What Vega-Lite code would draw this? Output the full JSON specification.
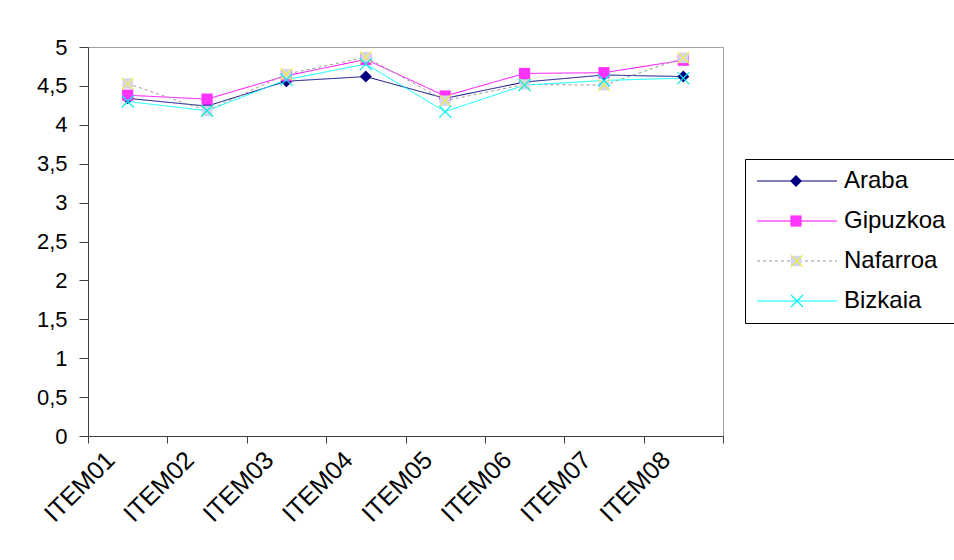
{
  "$schema": "https://vega.github.io/schema/vega-lite/v6.json",
  "autosize": "none",
  "width": 635,
  "height": 389,
  "padding": {"left": 88, "top": 47, "right": 231, "bottom": 124},
  "background": "white",
  "config": {
    "view": {"stroke": "#a0a0a0", "strokeWidth": 1},
    "font": "Liberation Sans",
    "axis": {"labelFont": "Liberation Sans", "labelFontSize": 22, "labelColor": "black", "domainColor": "#404040", "tickColor": "#404040", "grid": false, "title": null},
    "legend": {"labelFont": "Liberation Sans", "labelFontSize": 24, "labelColor": "black"}
  },
  "data": {"values": [
    {"item": "ITEM01", "series": "Araba", "value": 4.34},
    {"item": "ITEM02", "series": "Araba", "value": 4.24},
    {"item": "ITEM03", "series": "Araba", "value": 4.56},
    {"item": "ITEM04", "series": "Araba", "value": 4.62},
    {"item": "ITEM05", "series": "Araba", "value": 4.34},
    {"item": "ITEM06", "series": "Araba", "value": 4.55},
    {"item": "ITEM07", "series": "Araba", "value": 4.64},
    {"item": "ITEM08", "series": "Araba", "value": 4.62},
    {"item": "ITEM01", "series": "Gipuzkoa", "value": 4.38},
    {"item": "ITEM02", "series": "Gipuzkoa", "value": 4.33},
    {"item": "ITEM03", "series": "Gipuzkoa", "value": 4.63},
    {"item": "ITEM04", "series": "Gipuzkoa", "value": 4.84},
    {"item": "ITEM05", "series": "Gipuzkoa", "value": 4.37},
    {"item": "ITEM06", "series": "Gipuzkoa", "value": 4.66},
    {"item": "ITEM07", "series": "Gipuzkoa", "value": 4.67},
    {"item": "ITEM08", "series": "Gipuzkoa", "value": 4.83},
    {"item": "ITEM01", "series": "Nafarroa", "value": 4.53},
    {"item": "ITEM02", "series": "Nafarroa", "value": 4.18},
    {"item": "ITEM03", "series": "Nafarroa", "value": 4.65},
    {"item": "ITEM04", "series": "Nafarroa", "value": 4.87},
    {"item": "ITEM05", "series": "Nafarroa", "value": 4.31},
    {"item": "ITEM06", "series": "Nafarroa", "value": 4.52},
    {"item": "ITEM07", "series": "Nafarroa", "value": 4.51},
    {"item": "ITEM08", "series": "Nafarroa", "value": 4.86},
    {"item": "ITEM01", "series": "Bizkaia", "value": 4.3},
    {"item": "ITEM02", "series": "Bizkaia", "value": 4.18},
    {"item": "ITEM03", "series": "Bizkaia", "value": 4.58},
    {"item": "ITEM04", "series": "Bizkaia", "value": 4.78},
    {"item": "ITEM05", "series": "Bizkaia", "value": 4.17},
    {"item": "ITEM06", "series": "Bizkaia", "value": 4.51},
    {"item": "ITEM07", "series": "Bizkaia", "value": 4.57},
    {"item": "ITEM08", "series": "Bizkaia", "value": 4.6}
  ]},
  "encoding": {
    "x": {"field": "item", "type": "nominal", "bandPosition": 0.5,
      "scale": {"type": "band", "paddingInner": 0, "paddingOuter": 0},
      "axis": {"tickBand": "extent", "labelAngle": -45, "labelAlign": "right", "labelBaseline": "top", "labelFontSize": 25, "labelOffset": -26, "tickSize": 7, "labelPadding": 4}},
    "y": {"field": "value", "type": "quantitative",
      "scale": {"domain": [0, 5]},
      "axis": {"values": [0, 0.5, 1, 1.5, 2, 2.5, 3, 3.5, 4, 4.5, 5], "labelExpr": "replace(toString(datum.value), '.', ',')", "tickSize": 9, "labelPadding": 12}}
  },
  "layer": [
    {
      "mark": {"type": "line", "strokeWidth": 1},
      "encoding": {
        "color": {"field": "series", "type": "nominal",
          "scale": {"domain": ["Araba", "Gipuzkoa", "Nafarroa", "Bizkaia"], "range": ["#000080", "#FF00FF", "#999999", "#00FFFF"]},
          "legend": {"title": null, "orient": "none", "legendX": 657, "legendY": 112, "symbolType": "M-1,0H7", "symbolSize": 400, "symbolStrokeWidth": 1, "padding": 10, "rowPadding": 16, "labelOffset": 65, "strokeColor": "black", "fillColor": "white"}},
        "strokeDash": {"field": "series", "type": "nominal",
          "scale": {"domain": ["Araba", "Gipuzkoa", "Nafarroa", "Bizkaia"], "range": [[1, 0], [1, 0], [3, 3], [1, 0]]},
          "legend": {"title": null, "orient": "none", "legendX": 657, "legendY": 112, "symbolType": "M-1,0H7", "symbolSize": 400, "symbolStrokeWidth": 1, "padding": 10, "rowPadding": 16, "labelOffset": 65, "strokeColor": "black", "fillColor": "white"}}
      }
    },
    {
      "mark": {"type": "point", "filled": true, "opacity": 1, "strokeWidth": 0},
      "encoding": {
        "order": {"field": "series", "type": "nominal"},
        "color": {"field": "series", "type": "nominal",
          "scale": {"domain": ["Araba", "Gipuzkoa", "Nafarroa", "Bizkaia"], "range": ["#000080", "#FF33FF", "#D4D4F4", "transparent"]},
          "legend": {"title": null, "orient": "none", "legendX": 686, "legendY": 112, "padding": 10, "rowPadding": 16, "labelOpacity": 0}},
        "shape": {"field": "series", "type": "nominal",
          "scale": {"domain": ["Araba", "Gipuzkoa", "Nafarroa", "Bizkaia"], "range": ["diamond", "square", "square", "square"]},
          "legend": {"title": null, "orient": "none", "legendX": 686, "legendY": 112, "padding": 10, "rowPadding": 16, "labelOpacity": 0}},
        "size": {"field": "series", "type": "nominal",
          "scale": {"domain": ["Araba", "Gipuzkoa", "Nafarroa", "Bizkaia"], "range": [144, 90, 289, 1]},
          "legend": {"title": null, "orient": "none", "legendX": 686, "legendY": 112, "padding": 10, "rowPadding": 16, "labelOpacity": 0}}
      }
    },
    {
      "mark": {"type": "point", "filled": false, "opacity": 1, "strokeWidth": 1.2, "size": 144, "shape": "M-1,-1L1,1M-1,1L1,-1"},
      "encoding": {
        "color": {"field": "series", "type": "nominal",
          "scale": {"domain": ["Araba", "Gipuzkoa", "Nafarroa", "Bizkaia"], "range": ["transparent", "transparent", "#EEEE44", "#00EEEE"]},
          "legend": {"title": null, "orient": "none", "legendX": 687, "legendY": 112, "padding": 10, "rowPadding": 16, "labelOpacity": 0, "symbolType": "M-1,-1L1,1M-1,1L1,-1", "symbolSize": 144, "symbolStrokeWidth": 1.2}}
      }
    }
  ],
  "resolve": {
    "scale": {"color": "independent", "shape": "independent", "size": "independent", "strokeDash": "independent"},
    "legend": {"color": "independent", "shape": "independent", "size": "independent", "strokeDash": "independent"}
  }
}
